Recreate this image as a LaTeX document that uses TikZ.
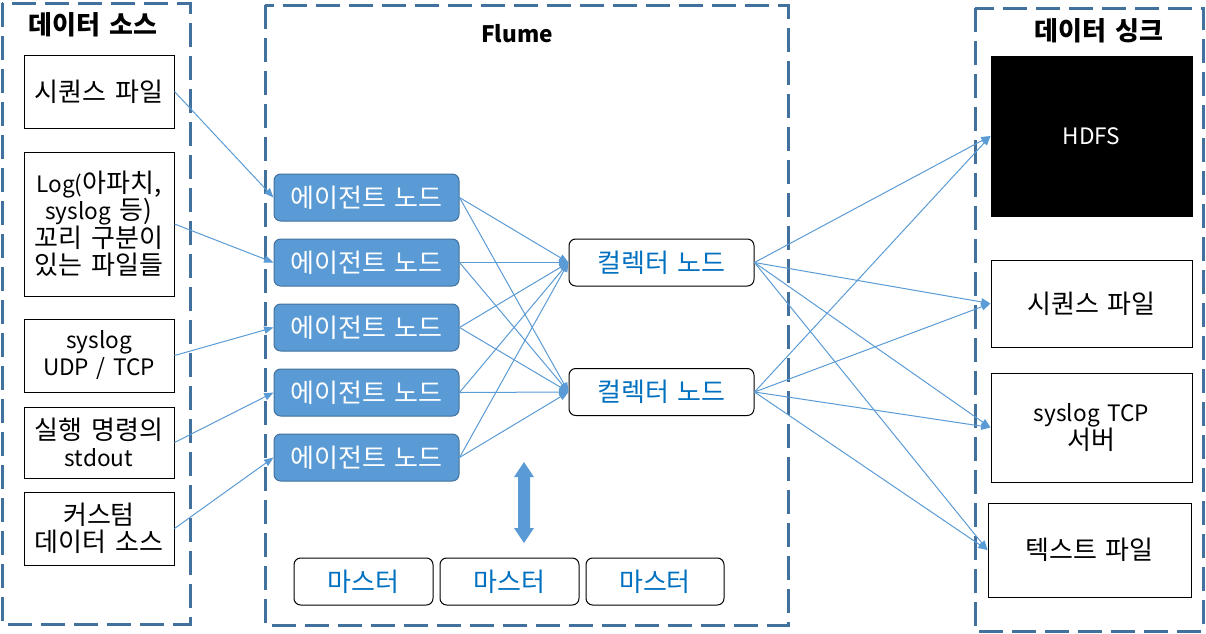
\documentclass[tikz,border=0pt]{standalone}
\usepackage{fontspec}
\setmainfont{Noto Sans CJK KR}[WordSpace=1.5]
\newfontfamily\lat{Noto Sans CJK KR}[Scale=0.87,WordSpace=1.5]
\usetikzlibrary{arrows.meta}
\definecolor{ablue}{HTML}{5B9BD5}
\definecolor{dblue}{HTML}{41719C}
\definecolor{tblue}{HTML}{0070C0}
\begin{document}
\begin{tikzpicture}[x=0.75pt,y=-0.75pt,
 frame/.style={draw=dblue, line width=2.25pt, dash pattern=on 18pt off 6.75pt},
 txt/.style={font=\fontsize{19.5}{20.25}\selectfont},
 box/.style={txt, draw=black, line width=0.75pt, inner sep=0pt, align=center},
 agent/.style={txt, draw=dblue, fill=ablue, rounded corners=5pt, text=white, line width=0.75pt, inner sep=0pt,
   minimum width=138.75pt, minimum height=35.25pt},
 coll/.style={txt, draw=black, fill=white, rounded corners=5pt, text=tblue, line width=0.75pt, inner sep=0pt,
   minimum height=35.25pt},
 conn/.style={draw=ablue, line width=0.75pt, -{Triangle[length=7pt,width=5.5pt]}},
 ttl/.style={font=\bfseries\fontsize{19.5}{20}\selectfont}
]
\useasboundingbox (0,0) rectangle (1206,633);
% frames
\draw[frame] (2,3) rectangle (190,624);
\draw[frame] (265,5) rectangle (788,625);
\draw[frame] (975,8) rectangle (1203,631);
\node[ttl] (t1) at (93,25) {데이터 소스};
\node[ttl] (t2) at (517,34) {\lat Flume};
\node[ttl] (t3) at (1099,31) {데이터 싱크};
% sources
\node[box, minimum width=112.5pt, minimum height=54.75pt] (s1) at (99,91.5) {시퀀스 파일};
\node[box, minimum width=112.5pt, minimum height=108pt] (s2) at (99,224) {{\lat Log(}아파치,\\{\lat syslog} 등)\\꼬리 구분이\\있는 파일들};
\node[box, minimum width=112.5pt, minimum height=54.75pt] (s3) at (99,355.5) {\lat syslog\\\lat UDP / TCP};
\node[box, minimum width=112.5pt, minimum height=53.25pt] (s4) at (99,442.5) {실행 명령의\\\lat stdout};
\node[box, minimum width=112.5pt, minimum height=54.75pt] (s5) at (99,528.5) {커스텀\\데이터 소스};
% agents
\foreach \i/\y in {1/197.5,2/262.5,3/327.5,4/392.5,5/457.5}{
  \node[agent] (a\i) at (366.5,\y) {에이전트 노드};
}
% collectors
\node[coll, minimum width=138.75pt] (c1) at (661.5,262.5) {컬렉터 노드};
\node[coll, minimum width=138.75pt] (c2) at (661.5,392) {컬렉터 노드};
% masters
\node[coll, minimum width=104.25pt] (m1) at (363.5,581.5) {마스터};
\node[coll, minimum width=104.25pt] (m2) at (509.5,581.5) {마스터};
\node[coll, minimum width=103.5pt] (m3) at (655,581.5) {마스터};
% double arrow
\fill[ablue] (524,462) -- (534,477) -- (530,477) -- (530,528) -- (534,528) -- (524,543)
  -- (514,528) -- (518,528) -- (518,477) -- (514,477) -- cycle;
% sinks
\node[box, fill=black, text=white, minimum width=150.75pt, minimum height=120pt] (k1) at (1091.5,136) {\lat HDFS};
\node[box, minimum width=150.75pt, minimum height=65.25pt] (k2) at (1091.5,303.5) {시퀀스 파일};
\node[box, minimum width=150.75pt, minimum height=81.75pt] (k3) at (1091.5,427.5) {\lat syslog TCP\\서버};
\node[box, minimum width=152.25pt, minimum height=70.5pt] (k4) at (1089.5,550) {텍스트 파일};
% connectors
\draw[conn] (s1.east) -- (a1.west);
\draw[conn] (s2.east) -- (a2.west);
\draw[conn] (s3.east) -- (a3.west);
\draw[conn] (s4.east) -- (a4.west);
\draw[conn] (s5.east) -- (a5.west);
\foreach \i in {1,...,5}{
  \draw[conn] (a\i.east) -- (c1.west);
  \draw[conn] (a\i.east) -- (c2.west);
}
\foreach \c in {c1,c2}{
  \draw[conn] (\c.east) -- (k1.west);
  \draw[conn] (\c.east) -- (k2.west);
  \draw[conn] (\c.east) -- (k3.west);
  \draw[conn] (\c.east) -- (k4.west);
}
\end{tikzpicture}
\end{document}
